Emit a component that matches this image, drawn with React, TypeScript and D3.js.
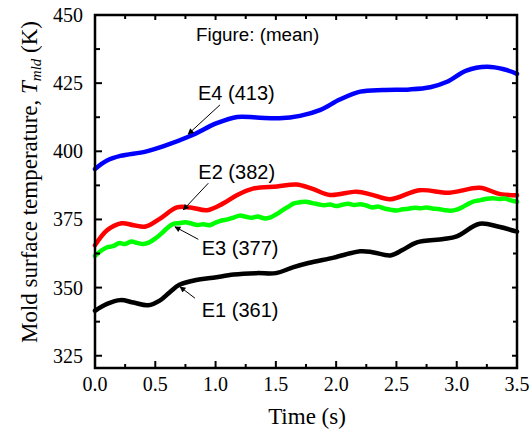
import React from 'react';
import * as d3 from 'd3';

// mean mold surface temperature (K) vs time (s)
const e1Time = [0, 0.1, 0.21, 0.32, 0.44, 0.54, 0.62, 0.7, 0.84, 0.98, 1.15, 1.34, 1.5, 1.64, 1.77, 1.98, 2.2, 2.3, 2.45, 2.55, 2.67, 2.89, 3.0, 3.19, 3.35, 3.5];
const e1Temp = [341.5, 344.0, 345.4, 344.5, 343.5, 345.3, 348.3, 351.0, 352.8, 353.6, 354.8, 355.3, 355.3, 357.4, 359.0, 361.0, 363.3, 363.0, 361.8, 363.8, 366.6, 367.8, 368.8, 373.4, 372.3, 370.5];

const e2Time = [0, 0.1, 0.22, 0.32, 0.42, 0.54, 0.68, 0.79, 0.93, 1.06, 1.18, 1.31, 1.51, 1.67, 1.8, 1.95, 2.17, 2.3, 2.45, 2.69, 2.94, 3.19, 3.36, 3.5];
const e2Temp = [365.5, 371.0, 373.6, 372.9, 372.4, 375.3, 379.4, 379.4, 378.4, 380.8, 384.0, 386.3, 387.1, 387.8, 386.3, 384.0, 385.2, 384.0, 382.4, 385.7, 384.8, 386.6, 384.3, 383.9];

const e3Time = [0, 0.05, 0.1, 0.15, 0.2, 0.25, 0.3, 0.35, 0.4, 0.45, 0.5, 0.55, 0.6, 0.65, 0.7, 0.75, 0.8, 0.85, 0.9, 0.95, 1.0, 1.05, 1.1, 1.15, 1.2, 1.25, 1.3, 1.35, 1.4, 1.45, 1.5, 1.55, 1.6, 1.65, 1.7, 1.75, 1.8, 1.85, 1.9, 1.95, 2.0, 2.05, 2.1, 2.15, 2.2, 2.25, 2.3, 2.35, 2.4, 2.45, 2.5, 2.55, 2.6, 2.65, 2.7, 2.75, 2.8, 2.85, 2.9, 2.95, 3.0, 3.05, 3.1, 3.15, 3.2, 3.25, 3.3, 3.35, 3.4, 3.45, 3.5];
const e3Temp = [361.6, 363.5, 364.8, 365.2, 366.3, 366.0, 366.9, 366.4, 366.0, 366.6, 368.0, 369.8, 371.9, 373.4, 373.6, 374.0, 373.5, 373.0, 373.2, 372.9, 373.8, 374.6, 375.0, 375.7, 376.4, 376.0, 375.6, 376.1, 375.4, 375.7, 376.8, 378.2, 379.6, 380.9, 381.3, 381.5, 381.0, 380.6, 380.2, 380.5, 379.9, 380.4, 380.8, 380.3, 380.6, 380.1, 379.4, 379.7, 379.0, 378.6, 378.3, 378.7, 378.9, 379.3, 379.1, 379.4, 379.0, 378.8, 378.4, 378.2, 378.6, 379.6, 380.8, 381.7, 382.1, 382.6, 382.8, 382.5, 382.7, 382.0, 381.5];

const e4Time = [0, 0.1, 0.21, 0.42, 0.57, 0.79, 1.01, 1.18, 1.34, 1.53, 1.7, 1.87, 2.03, 2.2, 2.39, 2.61, 2.78, 2.92, 3.08, 3.25, 3.39, 3.5];
const e4Temp = [393.5, 396.6, 398.3, 399.9, 401.9, 405.6, 410.3, 412.6, 412.4, 412.1, 413.0, 415.2, 419.0, 421.9, 422.5, 422.7, 423.5, 425.5, 429.6, 431.0, 430.1, 428.4];

const seriesNames = ['E1', 'E2', 'E3', 'E4'];
const seriesColors = ['#000000', '#ff0000', '#00ff00', '#0000ff'];

// annotation labels: text anchor (time, temp), arrow tail and arrow tip
const labelText = ['E1 (361)', 'E2 (382)', 'E3 (377)', 'E4 (413)'];
const labelPos = [[0.885, 339.3], [0.857, 389.8], [0.885, 362.0], [0.854, 419.0]];
const arrowFrom = [[0.829, 346.1], [0.94, 388.3], [0.857, 367.7], [1.036, 417.0]];
const arrowTo = [[0.705, 350.3], [0.732, 378.5], [0.663, 372.3], [0.773, 406.3]];

const xTicks = [0, 0.5, 1.0, 1.5, 2.0, 2.5, 3.0, 3.5];
const xTickLabels = ['0.0', '0.5', '1.0', '1.5', '2.0', '2.5', '3.0', '3.5'];
const xMinor = [0.25, 0.75, 1.25, 1.75, 2.25, 2.75, 3.25];
const yTicks = [325, 350, 375, 400, 425, 450];
const yTickLabels = ['325', '350', '375', '400', '425', '450'];
const yMinor = [337.5, 362.5, 387.5, 412.5, 437.5];

const W = 531, H = 434;
const margin = { top: 15, right: 14, bottom: 66, left: 95 };
const innerW = W - margin.left - margin.right;
const innerH = H - margin.top - margin.bottom;

const x = d3.scaleLinear().domain([0, 3.5]).range([0, innerW]);
const y = d3.scaleLinear().domain([320.5, 450]).range([innerH, 0]);

const line = d3.line<[number, number]>()
    .x((d) => x(d[0]))
    .y((d) => y(d[1]))
    .curve(d3.curveCatmullRom.alpha(0.5));

const seriesData = [
    e1Time.map((t, i) => [t, e1Temp[i]] as [number, number]),
    e2Time.map((t, i) => [t, e2Temp[i]] as [number, number]),
    e3Time.map((t, i) => [t, e3Temp[i]] as [number, number]),
    e4Time.map((t, i) => [t, e4Temp[i]] as [number, number]),
];

const serif = '"Liberation Serif", "Times New Roman", serif';
const sans = '"Liberation Sans", Arial, sans-serif';

export default function App() {
    const major = 7, minor = 4;
    return (
        <svg width={W} height={H} style={{ position: 'absolute', left: 0, top: 0, background: '#fff' }}>
            <defs>
                <marker id="arrow" viewBox="0 0 10 10" refX="9" refY="5" markerWidth="10" markerHeight="6" orient="auto" markerUnits="userSpaceOnUse">
                    <path d="M0,0 L10,5 L0,10 z" fill="#000" />
                </marker>
            </defs>
            <g transform={`translate(${margin.left},${margin.top})`}>
                {/* curves */}
                {seriesData.map((d, i) => (
                    <path key={seriesNames[i]} d={line(d) || ''} fill="none" stroke={seriesColors[i]}
                        strokeWidth={4.5} strokeLinejoin="round" strokeLinecap="round" />
                ))}
                {/* frame */}
                <rect x={0} y={0} width={innerW} height={innerH} fill="none" stroke="#000" strokeWidth={2.5} />
                {/* y ticks, inward on both sides */}
                {yTicks.map((v) => (
                    <g key={'yt' + v}>
                        <line x1={0} x2={major} y1={y(v)} y2={y(v)} stroke="#000" strokeWidth={2} />
                        <line x1={innerW} x2={innerW - 5} y1={y(v)} y2={y(v)} stroke="#000" strokeWidth={2} />
                    </g>
                ))}
                {yMinor.map((v) => (
                    <g key={'ym' + v}>
                        <line x1={0} x2={minor + 1} y1={y(v)} y2={y(v)} stroke="#000" strokeWidth={2} />
                        <line x1={innerW} x2={innerW - minor} y1={y(v)} y2={y(v)} stroke="#000" strokeWidth={2} />
                    </g>
                ))}
                {yTicks.map((v, i) => (
                    <text key={'yl' + v} x={-12} y={y(v)} dy="0.35em" textAnchor="end"
                        fontFamily={serif} fontSize={20}>{yTickLabels[i]}</text>
                ))}
                {/* x ticks */}
                {xTicks.map((v) => (
                    <g key={'xt' + v}>
                        <line x1={x(v)} x2={x(v)} y1={innerH} y2={innerH - major} stroke="#000" strokeWidth={2} />
                        <line x1={x(v)} x2={x(v)} y1={0} y2={5} stroke="#000" strokeWidth={2} />
                    </g>
                ))}
                {xMinor.map((v) => (
                    <g key={'xm' + v}>
                        <line x1={x(v)} x2={x(v)} y1={innerH} y2={innerH - minor} stroke="#000" strokeWidth={2} />
                        <line x1={x(v)} x2={x(v)} y1={0} y2={minor} stroke="#000" strokeWidth={2} />
                    </g>
                ))}
                {xTicks.map((v, i) => (
                    <text key={'xl' + v} x={x(v)} y={innerH + 23} textAnchor="middle"
                        fontFamily={serif} fontSize={20}>{xTickLabels[i]}</text>
                ))}
                {/* axis titles */}
                <text x={innerW / 2 + 1} y={innerH + 56} textAnchor="middle" fontFamily={serif} fontSize={23}>Time (s)</text>
                <text transform={`translate(${37 - margin.left},${182 - margin.top}) rotate(-90)`} textAnchor="middle"
                    fontFamily={serif} fontSize={23}>
                    Mold surface temperature, <tspan fontStyle="italic">T</tspan>
                    <tspan fontStyle="italic" fontSize={15} dy={4}>mld</tspan>
                    <tspan dy={-4}> (K)</tspan>
                </text>
                {/* annotations */}
                <text x={x(0.838)} y={y(440.6)} fontFamily={sans} fontSize={18.8}>Figure: (mean)</text>
                {labelText.map((t, i) => (
                    <g key={t}>
                        <line x1={x(arrowFrom[i][0])} y1={y(arrowFrom[i][1])} x2={x(arrowTo[i][0])} y2={y(arrowTo[i][1])}
                            stroke="#000" strokeWidth={1} markerEnd="url(#arrow)" />
                        <text x={x(labelPos[i][0])} y={y(labelPos[i][1])} fontFamily={sans} fontSize={20}>{t}</text>
                    </g>
                ))}
            </g>
        </svg>
    );
}
